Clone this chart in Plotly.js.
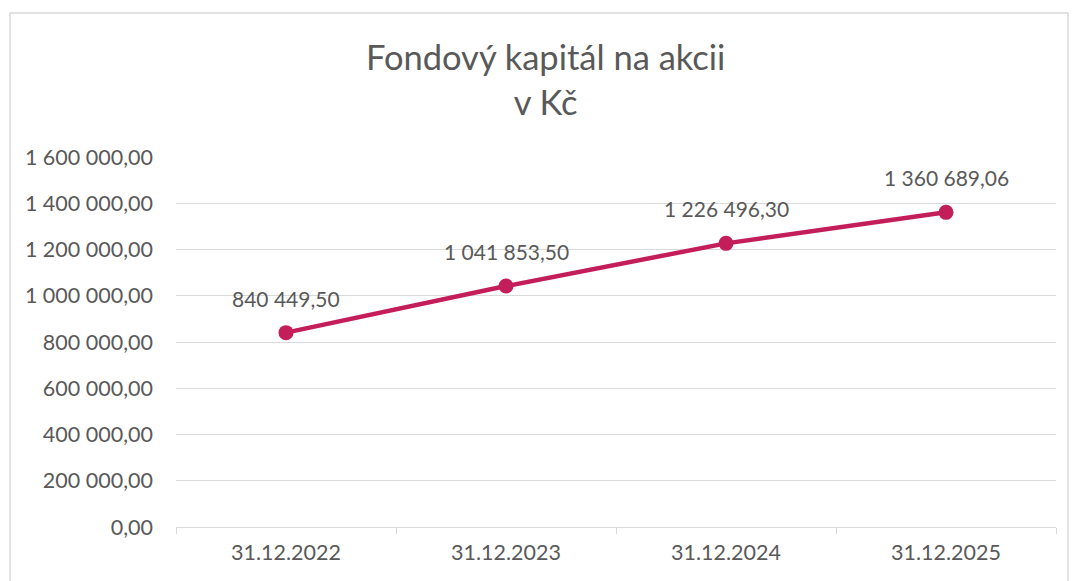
<!DOCTYPE html>
<html>
<head>
<meta charset="utf-8">
<script src="https://cdn.plot.ly/plotly-3.0.1.min.js"></script>
<style>html,body{margin:0;padding:0;background:#fff;}#chart{width:1072px;height:581px;}</style>
</head>
<body>
<div id="chart"></div>
<script>
const categories = ["31.12.2022", "31.12.2023", "31.12.2024", "31.12.2025"];
const values = [840449.50, 1041853.50, 1226496.30, 1360689.06];
const yTicks = [0, 200000, 400000, 600000, 800000, 1000000, 1200000, 1400000, 1600000];

const font = "Lato, 'Open Sans', sans-serif";
const trace = {
  x: categories,
  y: values,
  type: "scatter",
  mode: "lines+markers",
  line: {color: "#C41E5A", width: 4.5},
  marker: {color: "#C41E5A", size: 15},
  hoverinfo: "skip",
  cliponaxis: false
};
const fmt = v => {
  const parts = v.toFixed(2).split(".");
  return parts[0].replace(/\B(?=(\d{3})+(?!\d))/g, " ") + "," + parts[1];
};
const labels = categories.map((c, i) => ({
  x: c, y: values[i], xref: "x", yref: "y",
  text: fmt(values[i]), showarrow: false,
  yanchor: "bottom", xanchor: "center", yshift: 20,
  font: {family: font, size: 21, color: "#595959"}
}));
const layout = {
  width: 1072, height: 581,
  separators: ", ",
  paper_bgcolor: "#ffffff",
  plot_bgcolor: "#ffffff",
  margin: {l: 176, r: 16, t: 157, b: 54},
  showlegend: false,
  title: {
    text: "Fondový kapitál na akcii<br>v Kč",
    font: {family: font, size: 34.5, color: "#595959"},
    x: 0.509, xref: "container", xanchor: "center",
    y: 1 - 70/581, yref: "container", yanchor: "top"
  },
  xaxis: {
    type: "category",
    range: [-0.5, 3.5],
    tickson: "boundaries",
    ticks: "outside", ticklen: 6, tickcolor: "#d9d9d9", tickwidth: 1,
    showline: true, linecolor: "#d9d9d9", linewidth: 1,
    showgrid: false,
    ticklabelstandoff: 6,
    tickfont: {family: font, size: 21.5, color: "#595959"},
    fixedrange: true
  },
  yaxis: {
    range: [0, 1600000],
    tickvals: yTicks,
    tickformat: ",.2f",
    showgrid: true, gridcolor: "#d9d9d9", gridwidth: 1,
    zeroline: false, showline: false, ticks: "",
    ticklabelstandoff: 22,
    tickfont: {family: font, size: 21.5, color: "#595959"},
    fixedrange: true
  },
  annotations: labels,
  shapes: [{
    type: "rect", xref: "paper", yref: "paper",
    x0: (10 - 176) / 880, x1: (1068 - 176) / 880,
    y0: (527 - 600) / 370, y1: (527 - 13) / 370,
    line: {color: "#d9d9d9", width: 1.5}, fillcolor: "rgba(0,0,0,0)", layer: "below"
  }]
};
Plotly.newPlot("chart", [trace], layout, {displayModeBar: false, staticPlot: true});
</script>
</body>
</html>
